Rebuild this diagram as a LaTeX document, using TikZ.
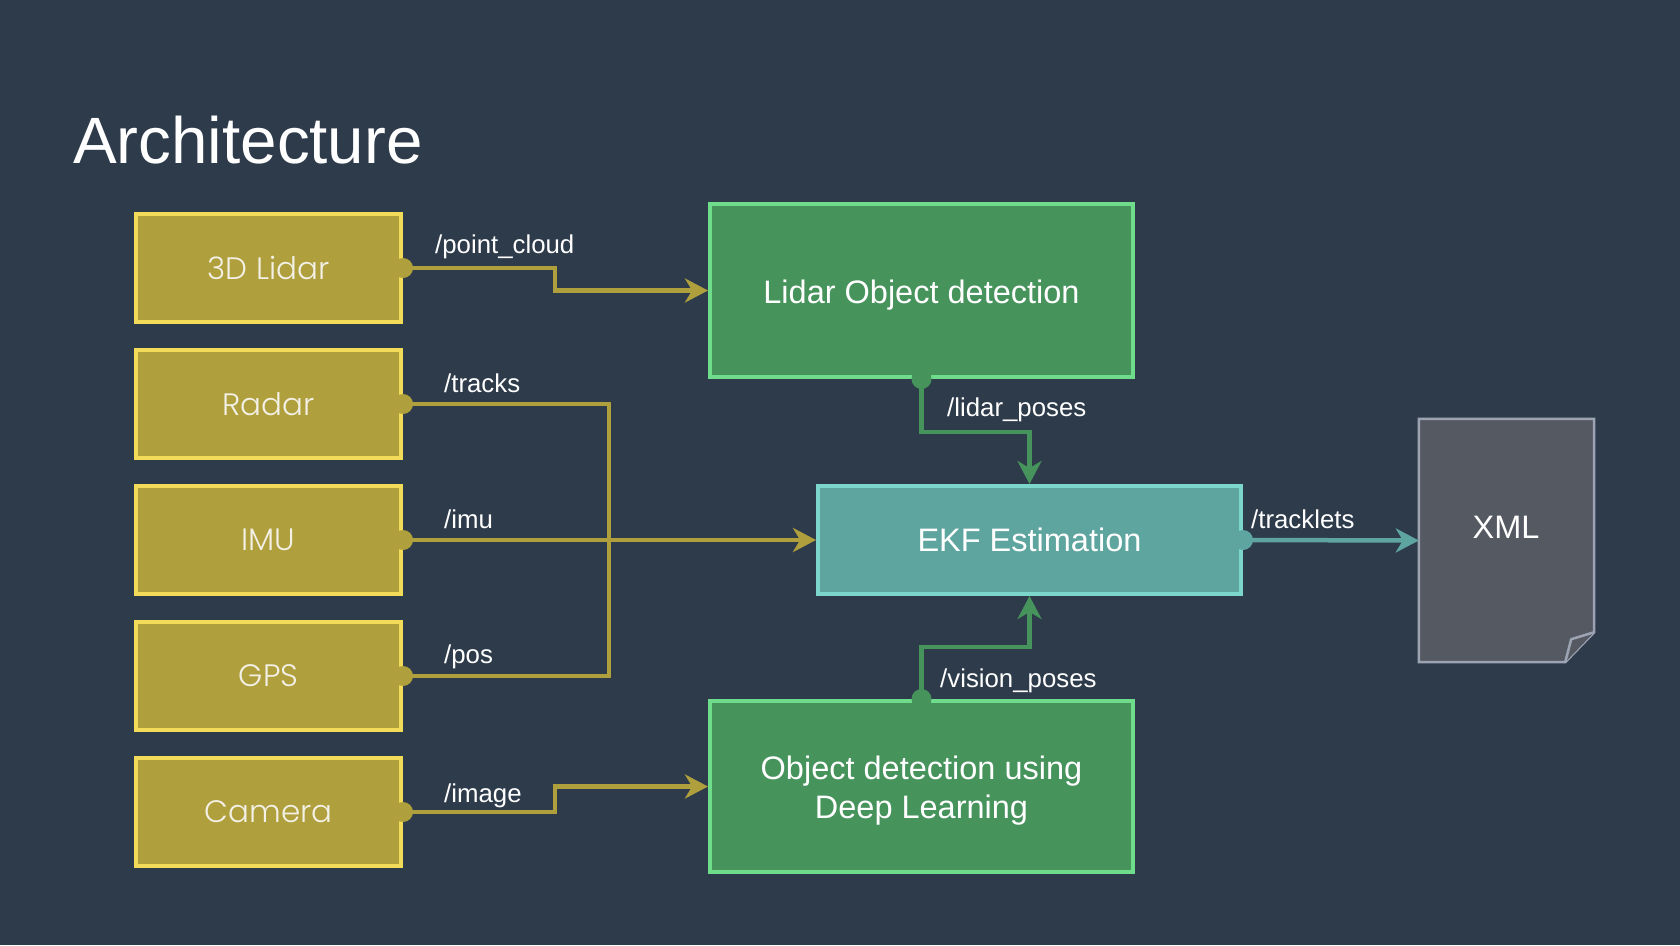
\documentclass[tikz,border=0pt]{standalone}
\usepackage{fontspec}
\setmainfont{Liberation Sans}
\newfontfamily\boxfont{Poppins Light}
\usetikzlibrary{arrows.meta}
\definecolor{bgc}{HTML}{2E3B4B}
\definecolor{olivef}{HTML}{B09F3D}
\definecolor{oliveb}{HTML}{F2DB58}
\definecolor{greenf}{HTML}{46935C}
\definecolor{greenb}{HTML}{6EDC8B}
\definecolor{tealf}{HTML}{5FA59F}
\definecolor{tealb}{HTML}{7DD6CC}
\definecolor{xmlf}{HTML}{555962}
\definecolor{xmlb}{HTML}{9CA4B4}
\definecolor{boxtext}{HTML}{F3F0E6}
\tikzset{
  sensor/.style={draw=oliveb, fill=olivef, line width=4bp, minimum width=265bp, minimum height=108bp, inner sep=0pt,
    text=boxtext, font=\boxfont\fontsize{31bp}{36bp}\selectfont},
  proc/.style={draw=greenb, fill=greenf, line width=4bp, minimum width=423bp, inner sep=0pt},
  proctext/.style={text=white, align=center, inner sep=0pt, font=\fontsize{32.5bp}{39bp}\selectfont},
  ekfbox/.style={draw=tealb, fill=tealf, line width=4bp, minimum width=423bp, minimum height=108bp, inner sep=0pt,
    text=white, font=\fontsize{32.5bp}{39bp}\selectfont},
  topic/.style={text=white, anchor=base west, inner sep=0pt, font=\fontsize{25.8bp}{30bp}\selectfont},
  tip/.style={-{Stealth[length=23bp,width=24bp,inset=7bp]}},
  olivecon/.style={draw=olivef, line width=4.5bp},
  greencon/.style={draw=greenf, line width=4.5bp},
  tealcon/.style={draw=tealf, line width=4.5bp},
}
\begin{document}
\begin{tikzpicture}[x=1bp,y=-1bp]
\fill[bgc] (0,0) rectangle (1680,945);
\useasboundingbox (0,0) rectangle (1680,945);

\node[anchor=base west, inner sep=0pt, text=white, font=\fontsize{65.5bp}{78bp}\selectfont] (title) at (73,163) {Architecture};

% sensors
\node[sensor] (lidar) at (268.5,268) {3D Lidar};
\node[sensor] (radar) at (268.5,404) {Radar};
\node[sensor] (imu) at (268.5,540) {IMU};
\node[sensor] (gps) at (268.5,676) {GPS};
\node[sensor] (cam) at (268.5,812) {Camera};

% processing
\node[proc, minimum height=173bp] (lod) at (921.5,290.5) {};
\node[proctext] (lodtext) at ([yshift=-4.5bp]lod.center) {Lidar Object detection};
\node[ekfbox] (ekf) at (1029.5,540) {EKF Estimation};
\node[proc, minimum height=171bp] (dl) at (921.5,786.5) {};
\node[proctext] (dltext) at ([yshift=-4.5bp]dl.center) {Object detection using\\Deep Learning};

% XML document
\node[minimum width=175bp, minimum height=243bp, inner sep=0pt] (xml) at (1506.5,540.5) {};
\draw[fill=xmlf, draw=xmlb, line width=2.5bp, line join=miter]
  (xml.north west) -- (xml.north east) -- ([yshift=30bp]xml.south east) -- ([xshift=-29bp]xml.south east) -- (xml.south west) -- cycle;
\draw[fill=xmlf, draw=xmlb, line width=2.5bp, line join=round]
  ([xshift=-29bp]xml.south east) -- ([xshift=-23bp,yshift=23bp]xml.south east) -- ([yshift=30bp]xml.south east);
\node[text=white, font=\fontsize{32.5bp}{39bp}\selectfont, inner sep=0pt] (xmltext) at (1506,527) {XML};

% connectors
\draw[olivecon, tip] (lidar.east) -- ++(152,0) |- (lod.west);
\draw[olivecon] (radar.east) -- ++(206,0) |- (gps.east);
\draw[olivecon, tip] (imu.east) -- (ekf.west);
\draw[olivecon, tip] (cam.east) -- ++(152,0) |- (dl.west);
\draw[greencon, tip] (lod.south) -- ++(0,53) -| (ekf.north);
\draw[greencon, tip] (dl.north) -- ++(0,-52) -| (ekf.south);
\draw[tealcon, tip] (ekf.east) -- (xml.west);

% dots
\foreach \n in {lidar,radar,imu,gps,cam} \fill[olivef] (\n.east) circle (10bp);
\fill[greenf] (lod.south) circle (10bp);
\fill[greenf] (dl.north) circle (10bp);
\fill[tealf] (ekf.east) circle (10bp);

% topic labels
\node[topic] (t1) at (435,253) {/point\_cloud};
\node[topic] (t2) at (444,392) {/tracks};
\node[topic] (t3) at (444,528) {/imu};
\node[topic] (t4) at (444,663) {/pos};
\node[topic] (t5) at (444,802) {/image};
\node[topic] (t6) at (947,416) {/lidar\_poses};
\node[topic] (t7) at (940,687) {/vision\_poses};
\node[topic] (t8) at (1251,528) {/tracklets};
\end{tikzpicture}
\end{document}
